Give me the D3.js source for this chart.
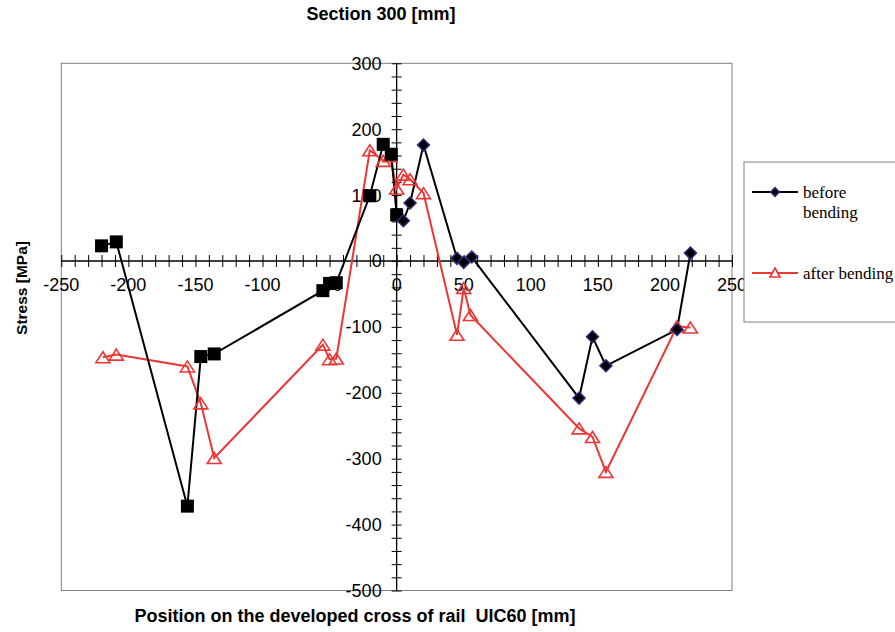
<!DOCTYPE html>
<html>
<head>
<meta charset="utf-8">
<script src="https://cdn.jsdelivr.net/npm/d3@7"></script>
<style>
html,body{margin:0;padding:0;background:#fff;}
svg{display:block;}
text{white-space:pre;}
</style>
</head>
<body>
<svg id="chart" width="895" height="632"></svg>
<script>
// ---- data ----
const beforeX = [-220, -209, -156, -146, -136, -55, -50, -45, -20, -10, -4, 0, 5, 10, 20, 45, 50, 56, 136, 146, 156, 209, 219];
const beforeY = [23, 29, -372, -145, -141, -45, -34, -33, 99, 177, 162, 70, 61, 88, 176, 4, -2, 6, -208, -115, -159, -104, 12];
// marker type per point: squares on the negative side, diamonds on the positive side
const beforeMarker = ["s","s","s","s","s","s","s","s","s","s","s","s","d","d","d","d","d","d","d","d","d","d","d"];
const afterX = [-219, -209, -156, -146, -136, -55, -50, -45, -20, -10, -5, 0, 5, 10, 20, 45, 50, 55, 136, 146, 156, 209, 219];
const afterY = [-146, -142, -160, -216, -299, -127, -149, -148, 168, 152, 159, 110, 131, 124, 103, -112, -41, -82, -254, -267, -320, -99, -101];
const xTickLabels = [-250, -200, -150, -100, -50, 0, 50, 100, 150, 200, 250];
const yTickLabels = [-500, -400, -300, -200, -100, 0, 100, 200, 300];
const seriesNames = ["before\nbending", "after bending"];
const titleText = "Section 300 [mm]";
const xTitle = "Position on the developed cross of rail  UIC60 [mm]";
const yTitle = "Stress [MPa]";

// ---- layout ----
const svg = d3.select("#chart");
const L = 61.3, R = 732, T = 63.3, B = 590.5;
const x = d3.scaleLinear().domain([-250, 250]).range([L, R]);
const y = d3.scaleLinear().domain([-500, 300]).range([B, T]);
const sans = "'Liberation Sans', Arial, sans-serif";
const serif = "'Liberation Serif', 'Times New Roman', serif";
const BLACK = "#000", RED = "#ee3535", NAVY = "#2c2c78";

// plot border
svg.append("rect").attr("x", L).attr("y", T).attr("width", R - L).attr("height", B - T)
  .attr("fill", "#fff").attr("stroke", "#808080").attr("stroke-width", 1);

// axes through the origin
const xAxisG = svg.append("g").attr("transform", `translate(0,${y(0)})`);
xAxisG.call(d3.axisBottom(x).tickValues(d3.range(-250, 251, 10)).tickSize(6).tickFormat(""))
  .call(g => g.select(".domain").remove());
xAxisG.selectAll(".tick line").attr("y1", -6).attr("y2", 6).attr("stroke", "#000").attr("stroke-width", 1);
svg.append("line").attr("x1", L).attr("x2", R).attr("y1", y(0)).attr("y2", y(0)).attr("stroke", "#000").attr("stroke-width", 1.3);

const yAxisG = svg.append("g").attr("transform", `translate(${x(0)},0)`);
yAxisG.call(d3.axisLeft(y).tickValues(d3.range(-500, 301, 20)).tickSize(5).tickFormat(""))
  .call(g => g.select(".domain").remove());
yAxisG.selectAll(".tick line").attr("x1", -5).attr("x2", 5).attr("stroke", "#000").attr("stroke-width", 1);
svg.append("line").attr("x1", x(0)).attr("x2", x(0)).attr("y1", T).attr("y2", B).attr("stroke", "#000").attr("stroke-width", 1.3);

// tick labels
svg.append("g").selectAll("text").data(xTickLabels).join("text")
  .attr("x", d => x(d)).attr("y", y(0) + 30)
  .attr("text-anchor", "middle").attr("font-family", sans).attr("font-size", 18).attr("fill", "#000")
  .text(d => d);
svg.append("g").selectAll("text").data(yTickLabels).join("text")
  .attr("x", x(0) - 15).attr("y", d => y(d)).attr("dy", "0.36em")
  .attr("text-anchor", "end").attr("font-family", sans).attr("font-size", 18).attr("fill", "#000")
  .text(d => d);

// ---- series ----
const beforeData = beforeX.map((v, i) => ({x: v, y: beforeY[i], m: beforeMarker[i]}));
const afterData = afterX.map((v, i) => ({x: v, y: afterY[i]}));
const line = d3.line().x(d => x(d.x)).y(d => y(d.y));

svg.append("path").datum(afterData).attr("d", line).attr("fill", "none").attr("stroke", RED).attr("stroke-width", 2);
svg.append("path").datum(beforeData).attr("d", line).attr("fill", "none").attr("stroke", BLACK).attr("stroke-width", 2);

function triPath(cx, cy, w, h) {
  return `M${cx},${cy - h / 2}L${cx + w / 2},${cy + h / 2}L${cx - w / 2},${cy + h / 2}Z`;
}
function diaPath(cx, cy, r) {
  return `M${cx},${cy - r}L${cx + r},${cy}L${cx},${cy + r}L${cx - r},${cy}Z`;
}

svg.append("g").selectAll("path").data(afterData).join("path")
  .attr("d", d => triPath(x(d.x), y(d.y), 14, 11))
  .attr("fill", "#fff").attr("fill-opacity", 0).attr("stroke", RED).attr("stroke-width", 1.6);

const bm = svg.append("g");
bm.selectAll("rect").data(beforeData.filter(d => d.m === "s")).join("rect")
  .attr("x", d => x(d.x) - 6.5).attr("y", d => y(d.y) - 6.5).attr("width", 13).attr("height", 13)
  .attr("fill", "#000");
bm.selectAll("path").data(beforeData.filter(d => d.m === "d")).join("path")
  .attr("d", d => diaPath(x(d.x), y(d.y), 6))
  .attr("fill", "#000").attr("stroke", NAVY).attr("stroke-width", 1.5);

// ---- titles ----
svg.append("text").attr("x", 381).attr("y", 20).attr("text-anchor", "middle")
  .attr("font-family", sans).attr("font-weight", "bold").attr("font-size", 18).text(titleText);
svg.append("text").attr("x", 355).attr("y", 622).attr("text-anchor", "middle")
  .attr("font-family", sans).attr("font-weight", "bold").attr("font-size", 18)
  .attr("xml:space", "preserve").text(xTitle);
svg.append("text").attr("transform", "translate(27,288) rotate(-90)").attr("text-anchor", "middle")
  .attr("font-family", sans).attr("font-weight", "bold").attr("font-size", 15.5).text(yTitle);

// ---- legend ----
const lg = svg.append("g");
lg.append("rect").attr("x", 744).attr("y", 162).attr("width", 160).attr("height", 160)
  .attr("fill", "#fff").attr("stroke", "#808080").attr("stroke-width", 1);
const legY = [192, 273];
lg.append("line").attr("x1", 752).attr("x2", 798).attr("y1", legY[0]).attr("y2", legY[0]).attr("stroke", BLACK).attr("stroke-width", 2);
lg.append("path").attr("d", diaPath(775, legY[0], 4.5)).attr("fill", "#000").attr("stroke", NAVY).attr("stroke-width", 1.3);
lg.append("line").attr("x1", 752).attr("x2", 798).attr("y1", legY[1]).attr("y2", legY[1]).attr("stroke", RED).attr("stroke-width", 2);
lg.append("path").attr("d", triPath(775, legY[1] - 0.5, 10, 9)).attr("fill", "#fff").attr("stroke", RED).attr("stroke-width", 1.6);
seriesNames.forEach((name, i) => {
  const t = lg.append("text").attr("font-family", serif).attr("font-size", 17).attr("fill", "#000");
  name.split("\n").forEach((part, j) => {
    t.append("tspan").attr("x", 803).attr("y", legY[i] + j * 20).attr("dy", "0.33em").text(part);
  });
});
</script>
</body>
</html>
